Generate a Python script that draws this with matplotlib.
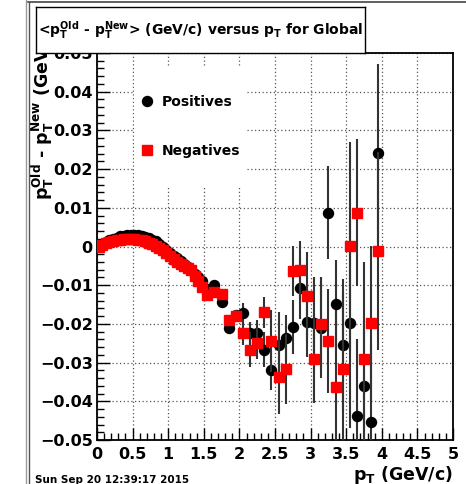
import numpy as np
import matplotlib
matplotlib.use("Agg")
import matplotlib.pyplot as plt
from matplotlib.lines import Line2D
from matplotlib.patches import Rectangle
from matplotlib.transforms import Bbox, TransformedBbox
from matplotlib.ticker import MultipleLocator, FuncFormatter

# ---------------------------------------------------------
# DATA
# ---------------------------------------------------------
pt_low = [0.025, 0.075, 0.125, 0.175, 0.225, 0.275, 0.325, 0.375, 0.425, 0.475,
          0.525, 0.575, 0.625, 0.675, 0.725, 0.775, 0.825, 0.875, 0.925, 0.975,
          1.025, 1.075, 1.125, 1.175, 1.225, 1.275, 1.325, 1.375, 1.425, 1.475]
pt_high = [1.55, 1.65, 1.75, 1.85, 1.95, 2.05, 2.15, 2.25, 2.35, 2.45,
           2.55, 2.65, 2.75, 2.85, 2.95, 3.05, 3.15, 3.25, 3.35, 3.45,
           3.55, 3.65, 3.75, 3.85, 3.95]

dpt_pos_low = [0.0002, 0.0007, 0.0012, 0.0016, 0.0020, 0.0023, 0.0026, 0.0028, 0.0029, 0.0030,
               0.0030, 0.0029, 0.0027, 0.0025, 0.0022, 0.0018, 0.0013, 0.0007, 0.0000, -0.0008,
               -0.0016, -0.0024, -0.0031, -0.0037, -0.0045, -0.0052, -0.0062, -0.0070, -0.0080, -0.0090]
dpt_neg_low = [0.0000, 0.0004, 0.0008, 0.0011, 0.0014, 0.0016, 0.0018, 0.0019, 0.0020, 0.0020,
               0.0019, 0.0018, 0.0016, 0.0013, 0.0010, 0.0006, 0.0002, -0.0003, -0.0009, -0.0016,
               -0.0025, -0.0033, -0.0040, -0.0045, -0.0050, -0.0055, -0.0060, -0.0075, -0.0090, -0.0105]
err_low = [0.0003, 0.0003, 0.0003, 0.0003, 0.0003, 0.0003, 0.0003, 0.0003, 0.0003, 0.0003,
           0.0003, 0.0003, 0.0003, 0.0003, 0.0003, 0.0003, 0.0003, 0.0004, 0.0004, 0.0004,
           0.0004, 0.0004, 0.0005, 0.0005, 0.0005, 0.0005, 0.0006, 0.0006, 0.0007, 0.0007]

dpt_pos_high = [-0.0110, -0.0099, -0.0143, -0.0210, -0.0178, -0.0172, -0.0224, -0.0224, -0.0267, -0.0320,
                -0.0255, -0.0236, -0.0208, -0.0108, -0.0195, -0.0198, -0.0210, 0.0087, -0.0149, -0.0255,
                -0.0198, -0.0438, -0.0360, -0.0453, 0.0242]
err_pos_high = [0.0008, 0.0012, 0.0013, 0.0015, 0.0015, 0.0027, 0.0028, 0.0035, 0.0045, 0.0050,
                0.0085, 0.0060, 0.0070, 0.0080, 0.0090, 0.0120, 0.0130, 0.0120, 0.0115, 0.0170,
                0.0270, 0.0200, 0.0170, 0.0200, 0.0230]

dpt_neg_high = [-0.0125, -0.0118, -0.0123, -0.0190, -0.0180, -0.0224, -0.0267, -0.0250, -0.0170, -0.0244,
                -0.0337, -0.0317, -0.0063, -0.0060, -0.0128, -0.0290, -0.0200, -0.0244, -0.0363, -0.0317,
                0.0001, 0.0087, -0.0290, -0.0198, -0.0012]
err_neg_high = [0.0008, 0.0010, 0.0010, 0.0013, 0.0015, 0.0030, 0.0045, 0.0040, 0.0040, 0.0080,
                0.0095, 0.0090, 0.0065, 0.0075, 0.0115, 0.0115, 0.0120, 0.0135, 0.0200, 0.0200,
                0.0270, 0.0190, 0.0250, 0.0200, 0.0255]

title_text = r"<$p_{T}^{Old}$ - $p_{T}^{New}$> (GeV/c) versus $p_{T}$ for Global"
ylabel_text = r"$p_{T}^{Old}$ - $p_{T}^{New}$ (GeV/c)"
xlabel_text = r"$p_{T}$ (GeV/c)"
date_text = "Sun Sep 20 12:39:17 2015"

# ---------------------------------------------------------
# STYLE
# ---------------------------------------------------------
plt.rcParams["font.family"] = "DejaVu Sans"
plt.rcParams["font.weight"] = "bold"
plt.rcParams["mathtext.default"] = "bf"
plt.rcParams["axes.unicode_minus"] = True

W, H = 466, 484
fig = plt.figure(figsize=(W / 100, H / 100), dpi=100)
fig.patch.set_facecolor("white")

# axes frame: x 97..453, y 53..440 (pixels)
ax = fig.add_axes([97 / W, 1 - 440 / H, (453 - 97) / W, (440 - 53) / H], zorder=1)

x_pos = pt_low + pt_high
y_pos = dpt_pos_low + dpt_pos_high
e_pos = err_low + err_pos_high
x_neg = pt_low + pt_high
y_neg = dpt_neg_low + dpt_neg_high
e_neg = err_low + err_neg_high

eb_pos = ax.errorbar(x_pos, y_pos, yerr=e_pos, fmt="o", color="black", ms=7.2,
                     ecolor="#333333", elinewidth=1.5, capsize=0, zorder=3)
eb_neg = ax.errorbar(x_neg, y_neg, yerr=e_neg, fmt="s", color="#ff0000", ms=7.0,
                     mec="#ff0000", ecolor="#333333", elinewidth=1.5, capsize=0, zorder=4)

ax.set_xlim(0, 5)
ax.set_ylim(-0.05, 0.05)

ax.xaxis.set_major_locator(MultipleLocator(0.5))
ax.xaxis.set_minor_locator(MultipleLocator(0.1))
ax.yaxis.set_major_locator(MultipleLocator(0.01))
ax.yaxis.set_minor_locator(MultipleLocator(0.002))


def fmt(v, pos):
    if abs(v) < 1e-9:
        return "0"
    s = f"{round(v, 4):g}"
    return s.replace("-", "\u2212")


ax.xaxis.set_major_formatter(FuncFormatter(fmt))
ax.yaxis.set_major_formatter(FuncFormatter(fmt))

ax.tick_params(which="both", direction="in", top=False, right=False, labelsize=11.5)
ax.tick_params(which="major", length=9, width=1.0)
ax.tick_params(which="minor", length=5, width=1.0)
ax.tick_params(axis="y", pad=3)
ax.tick_params(axis="x", pad=5)
for lab in ax.get_xticklabels() + ax.get_yticklabels():
    lab.set_fontweight("bold")

for sp in ax.spines.values():
    sp.set_linewidth(1.3)

ax.grid(True, which="major", color="#555555", linestyle=(0, (1, 2)), linewidth=0.9)
ax.set_axisbelow(True)

# legend (no border, white background over the grid)
ax.add_patch(Rectangle((134 / W, 1 - 188 / H), 111 / W, 122 / H, transform=fig.transFigure,
                       facecolor="white", edgecolor="none", zorder=2))
leg = ax.legend([eb_pos.lines[0], eb_neg.lines[0]], ["Positives", "Negatives"],
                loc="upper left", bbox_to_anchor=(137 / W, 1 - 92 / H),
                bbox_transform=fig.transFigure, frameon=False,
                handlelength=1.0, handletextpad=0.6, labelspacing=2.5,
                borderpad=0.2, borderaxespad=0, prop={"weight": "bold", "size": 10})
leg.set_zorder(6)

# axis labels; the y label runs under the title box, so clip it there
ylab = fig.text(43 / W, 1 - 200 / H, ylabel_text, rotation=90, ha="center", va="bottom",
                fontsize=12.5, fontweight="bold", zorder=0.5)
ylab.set_clip_box(TransformedBbox(Bbox([[0, 0], [1, 1 - 53 / H]]), fig.transFigure))
ylab.set_clip_on(True)
fig.text(453 / W, 1 - 480 / H, xlabel_text, ha="right", va="baseline",
         fontsize=12.5, fontweight="bold", zorder=0.5)
fig.text(35 / W, 1 - 483 / H, date_text, ha="left", va="baseline",
         fontsize=7.5, fontweight="bold", zorder=0.5)

# title box: its own axes on top of everything
tax = fig.add_axes([36 / W, 1 - 53 / H, (365 - 36) / W, (53 - 7) / H], zorder=20)
tax.set_facecolor("white")
tax.set_xticks([])
tax.set_yticks([])
for sp in tax.spines.values():
    sp.set_linewidth(1.0)
    sp.set_color("black")
tax.text(0.5, 0.5, title_text, transform=tax.transAxes, ha="center", va="center",
         fontsize=10, fontweight="bold")

# canvas border lines
fig.add_artist(Line2D([28 / W, 1], [1 - 2 / H, 1 - 2 / H], color="#444444", lw=1.2))
fig.add_artist(Line2D([26 / W, 26 / W], [0, 1], color="#999999", lw=1.0))
fig.add_artist(Line2D([29 / W, 29 / W], [0, 1 - 2 / H], color="#555555", lw=1.0))

fig.savefig("out.png", dpi=100)
